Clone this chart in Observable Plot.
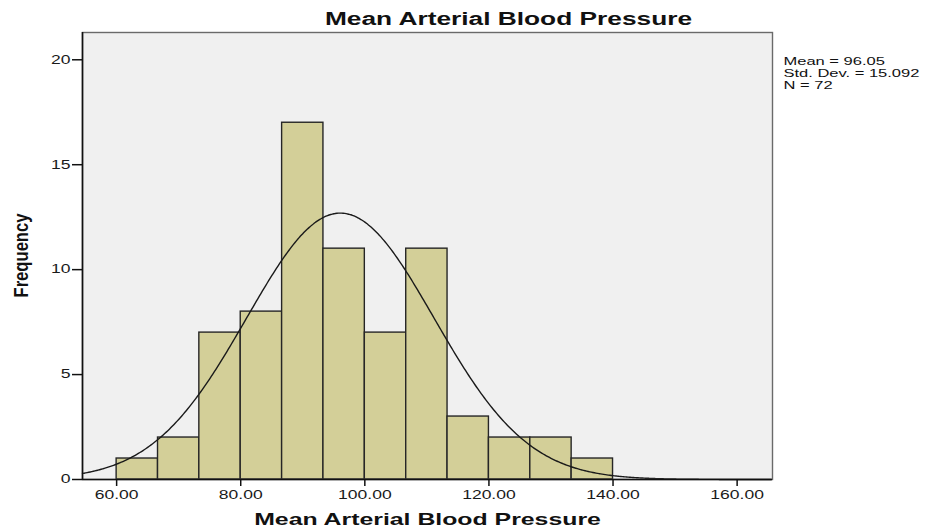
<!DOCTYPE html>
<html>
<head>
<meta charset="utf-8">
<script src="https://cdn.jsdelivr.net/npm/d3@7"></script>
<script src="https://cdn.jsdelivr.net/npm/@observablehq/plot@0.6"></script>
<style>
  html, body { margin: 0; padding: 0; background: #fff; }
  #chart { width: 936px; height: 532px; }
</style>
</head>
<body>
<div id="chart"></div>
<script>
// Histogram bins (lower edge, upper edge) and counts
const binLower = [60.00, 66.67, 73.33, 80.00, 86.67, 93.33, 100.00, 106.67, 113.33, 120.00, 126.67, 133.33];
const binUpper = [66.67, 73.33, 80.00, 86.67, 93.33, 100.00, 106.67, 113.33, 120.00, 126.67, 133.33, 140.00];
const counts   = [1, 2, 7, 8, 17, 11, 7, 11, 3, 2, 2, 1];

// Summary statistics shown in the chart
const statMean = 96.05;
const statSD = 15.092;
const statN = 72;
const statLabels = ["Mean = 96.05", "Std. Dev. = 15.092", "N = 72"];

const titleText = "Mean Arterial Blood Pressure";
const xLabelText = "Mean Arterial Blood Pressure";
const yLabelText = "Frequency";

const xTicks = [60, 80, 100, 120, 140, 160];
const yTicks = [0, 5, 10, 15, 20];
const xDomain = [54.5, 165.7];
const yDomain = [0, 21.3];

const bars = binLower.map((lo, i) => ({x1: lo, x2: binUpper[i], y: counts[i]}));

// Fitted normal curve defined by the chart's stated mean / SD / N and bin width
const binWidth = binUpper[0] - binLower[0];
const curve = d3.range(xDomain[0], xDomain[1] + 0.01, 0.25).map(x => ({
  x,
  y: statN * binWidth * Math.exp(-0.5 * ((x - statMean) / statSD) ** 2) / (statSD * Math.sqrt(2 * Math.PI))
}));

const font = '"Liberation Sans", Arial, sans-serif';

const chart = Plot.plot({
  width: 936,
  height: 532,
  marginLeft: 82,
  marginRight: 164,
  marginTop: 32,
  marginBottom: 53,
  style: {fontFamily: font, fontSize: "12px", color: "#222", background: "#fff", overflow: "visible"},
  x: {domain: xDomain, label: null},
  y: {domain: yDomain, label: null},
  marks: [
    Plot.frame({fill: "#f0f0f0", stroke: "none"}),
    Plot.rectY(bars, {x1: "x1", x2: "x2", y: "y", fill: "#d3cf98", stroke: "#262626", strokeWidth: 1.4}),
    Plot.line(curve, {x: "x", y: "y", stroke: "#1a1a1a", strokeWidth: 1.4, curve: "basis"}),
    Plot.frame({stroke: "#6a6a6a", strokeWidth: 1.4}),
    Plot.ruleY([0], {stroke: "#111", strokeWidth: 1.6}),
    Plot.ruleX([xDomain[0]], {stroke: "#111", strokeWidth: 1.6}),
    Plot.axisX({ticks: xTicks, tickFormat: d => d.toFixed(2), tickSize: 7, tickPadding: 3.5, stroke: "#111", strokeWidth: 1.5, fontSize: 12, fill: "#1a1a1a", label: null}),
    Plot.axisY({ticks: yTicks, tickSize: 10, tickPadding: 2, stroke: "#111", strokeWidth: 1.5, fontSize: 12, fill: "#1a1a1a", label: null}),
    // Title
    Plot.text([titleText], {frameAnchor: "top", lineAnchor: "middle", dx: 81, dy: -12.8, fontSize: 18, fontWeight: "bold", fill: "#111"}),
    // X label
    Plot.text([xLabelText], {frameAnchor: "bottom", lineAnchor: "middle", dy: 40.4, fontSize: 17, fontWeight: "bold", fill: "#111"}),
    // Y label
    Plot.text([yLabelText], {frameAnchor: "left", lineAnchor: "middle", textAnchor: "start", dx: -61.4, dy: 41.5, rotate: -90, fontSize: 20, fontWeight: "bold", fill: "#111"}),
    // Stats lines
    Plot.text([statLabels[0]], {frameAnchor: "top-right", dx: 11, dy: 24.2, lineAnchor: "top", textAnchor: "start", fontSize: 11, fill: "#111"}),
    Plot.text([statLabels[1]], {frameAnchor: "top-right", dx: 11, dy: 36.7, lineAnchor: "top", textAnchor: "start", fontSize: 11, fill: "#111"}),
    Plot.text([statLabels[2]], {frameAnchor: "top-right", dx: 11, dy: 49.0, lineAnchor: "top", textAnchor: "start", fontSize: 11, fill: "#111"})
  ]
});
document.getElementById("chart").appendChild(chart);

// The reference renders all text horizontally widened (~1.46x); the rotated
// y label is condensed along its length instead.
d3.select(chart).selectAll("text").each(function() {
  const t = this.textContent;
  const len = this.getComputedTextLength();
  if (!len) return;
  if (t === yLabelText) {
    this.setAttribute("textLength", 84);
  } else {
    const f = statLabels.includes(t) ? 1.5 : 1.46;
    this.setAttribute("textLength", (len * f).toFixed(1));
  }
  this.setAttribute("lengthAdjust", "spacingAndGlyphs");
});
</script>
</body>
</html>
